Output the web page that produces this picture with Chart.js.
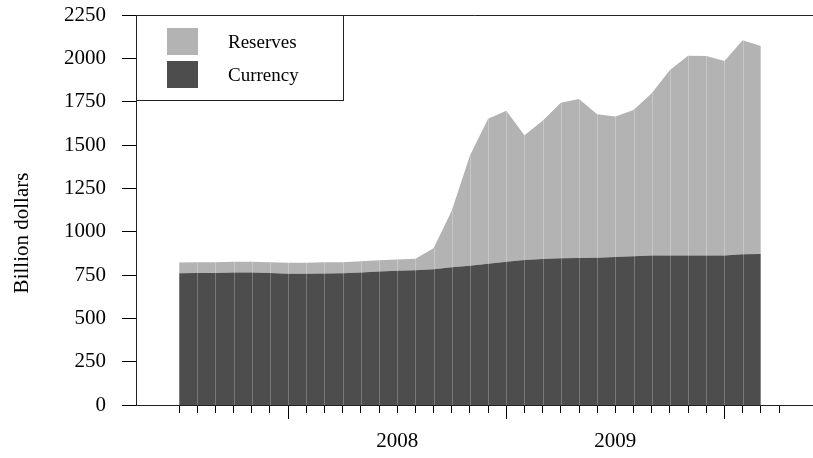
<!DOCTYPE html>
<html>
<head>
<meta charset="utf-8">
<title>Reserves and Currency</title>
<script src="https://cdn.jsdelivr.net/npm/chart.js@4/dist/chart.umd.min.js"></script>
<style>
    html, body { margin: 0; padding: 0; background: #fff; }
    canvas { display: block; }
</style>
</head>
<body>
<canvas id="areaChart" width="813" height="458"></canvas>
<script>
/* ---------------------------
   Data (billion dollars, monthly)
---------------------------- */
const months = [
    "Jul 2007", "Aug 2007", "Sep 2007", "Oct 2007", "Nov 2007", "Dec 2007",
    "Jan 2008", "Feb 2008", "Mar 2008", "Apr 2008", "May 2008", "Jun 2008",
    "Jul 2008", "Aug 2008", "Sep 2008", "Oct 2008", "Nov 2008", "Dec 2008",
    "Jan 2009", "Feb 2009", "Mar 2009", "Apr 2009", "May 2009", "Jun 2009",
    "Jul 2009", "Aug 2009", "Sep 2009", "Oct 2009", "Nov 2009", "Dec 2009",
    "Jan 2010", "Feb 2010", "Mar 2010", "Apr 2010"
];

const currency = [
    760, 761, 762, 764, 764, 762, 757, 757, 758, 760, 765, 770,
    775, 778, 783, 794, 804, 815, 827, 837, 842, 846, 848, 850,
    854, 858, 862, 863, 863, 863, 863, 869, 871
];

const reserves = [
    62, 62, 62, 62, 62, 62, 63, 63, 65, 63, 64, 65,
    65, 66, 121, 327, 636, 837, 871, 719, 798, 898, 917, 827,
    811, 844, 936, 1070, 1152, 1151, 1122, 1235, 1200
];

const yearLabels = ["2008", "2009"];
const yTitle = "Billion dollars";

const FONT = "'Liberation Serif', 'Times New Roman', serif";
const INK = "#222";

/* ---------------------------
   Helpers
---------------------------- */
const toPoints = values => values.map((v, i) => ({ x: i, y: v }));

function isMajor(index) {
    const m = months[index];
    return m && m.startsWith("Jan");
}

function yearLabelFor(index) {
    const m = months[index];
    if (!m || !m.startsWith("Jul")) return "";
    const year = m.slice(4);
    return yearLabels.includes(year) ? year : "";
}

/* ---------------------------
   Plugin: column lines, frame, legend, title
---------------------------- */
const decorations = {
    id: "decorations",
    afterDatasetsDraw(chart) {
        const { ctx, scales } = chart;
        const top = chart.getDatasetMeta(1);
        const base = scales.y.getPixelForValue(0);

        // faint vertical lines at each observation
        ctx.save();
        ctx.strokeStyle = "rgba(255, 255, 255, 0.25)";
        ctx.lineWidth = 1;
        top.data.forEach(pt => {
            const x = Math.round(pt.x) + 0.5;
            ctx.beginPath();
            ctx.moveTo(x, pt.y);
            ctx.lineTo(x, base);
            ctx.stroke();
        });
        ctx.restore();
    },
    afterDraw(chart) {
        const { ctx, chartArea } = chart;
        const left = Math.round(chartArea.left) + 0.5;
        const topY = Math.round(chartArea.top) + 0.5;

        ctx.save();

        // top frame line
        ctx.strokeStyle = INK;
        ctx.lineWidth = 1;
        ctx.beginPath();
        ctx.moveTo(left, topY);
        ctx.lineTo(chartArea.right, topY);
        ctx.stroke();

        // legend box
        const boxW = 207, boxH = 85;
        ctx.fillStyle = "#fff";
        ctx.fillRect(left, topY, boxW, boxH);
        ctx.strokeRect(left, topY, boxW, boxH);

        const entries = [chart.data.datasets[1], chart.data.datasets[0]];
        ctx.font = `19px ${FONT}`;
        ctx.textAlign = "left";
        ctx.textBaseline = "alphabetic";
        entries.forEach((ds, i) => {
            const sy = chartArea.top + 13 + i * 33;
            ctx.fillStyle = ds.backgroundColor;
            ctx.fillRect(chartArea.left + 31, sy, 31, 27);
            ctx.fillStyle = "#000";
            ctx.fillText(ds.label, chartArea.left + 92, sy + 20);
        });

        // y axis title
        ctx.font = `21px ${FONT}`;
        ctx.translate(28, 233);
        ctx.rotate(-Math.PI / 2);
        ctx.textAlign = "center";
        ctx.fillStyle = "#000";
        ctx.fillText(yTitle, 0, 0);

        ctx.restore();
    }
};

/* ---------------------------
   Chart
---------------------------- */
Chart.defaults.font.family = FONT;
Chart.defaults.font.size = 21;
Chart.defaults.color = "#000";

const ctx = document.getElementById("areaChart").getContext("2d");

new Chart(ctx, {
    type: "line",
    data: {
        datasets: [
            {
                label: "Currency",
                data: toPoints(currency),
                backgroundColor: "#4d4d4d",
                borderWidth: 0,
                pointRadius: 0,
                tension: 0,
                fill: "origin"
            },
            {
                label: "Reserves",
                data: toPoints(reserves),
                backgroundColor: "#b3b3b3",
                borderWidth: 0,
                pointRadius: 0,
                tension: 0,
                fill: "-1"
            }
        ]
    },
    options: {
        responsive: false,
        animation: false,
        layout: {
            padding: { top: 15, right: 0, bottom: 0, left: 0 }
        },
        scales: {
            x: {
                type: "linear",
                min: -2.365,
                max: 34.87,
                afterBuildTicks: scale => {
                    scale.ticks = months.map((m, i) => ({ value: i }));
                },
                afterFit: scale => {
                    scale.height = 53;
                    scale.paddingLeft = 0;
                    scale.paddingRight = 0;
                },
                ticks: {
                    autoSkip: false,
                    maxRotation: 0,
                    padding: 10,
                    callback: value => yearLabelFor(value)
                },
                grid: {
                    drawOnChartArea: false,
                    tickLength: 14,
                    tickColor: "#000",
                    tickBorderDash: c => (isMajor(c.tick && c.tick.value) ? [] : [7, 30])
                },
                border: { color: INK }
            },
            y: {
                stacked: true,
                min: 0,
                max: 2250,
                afterFit: scale => {
                    scale.width = 136;
                    scale.paddingTop = 0;
                    scale.paddingBottom = 0;
                },
                ticks: {
                    stepSize: 250,
                    padding: 16,
                    callback: value => String(value)
                },
                grid: {
                    drawOnChartArea: false,
                    tickLength: 14,
                    tickColor: "#000"
                },
                border: { color: INK }
            }
        },
        plugins: {
            legend: { display: false },
            tooltip: { enabled: false }
        }
    },
    plugins: [decorations]
});
</script>
</body>
</html>
